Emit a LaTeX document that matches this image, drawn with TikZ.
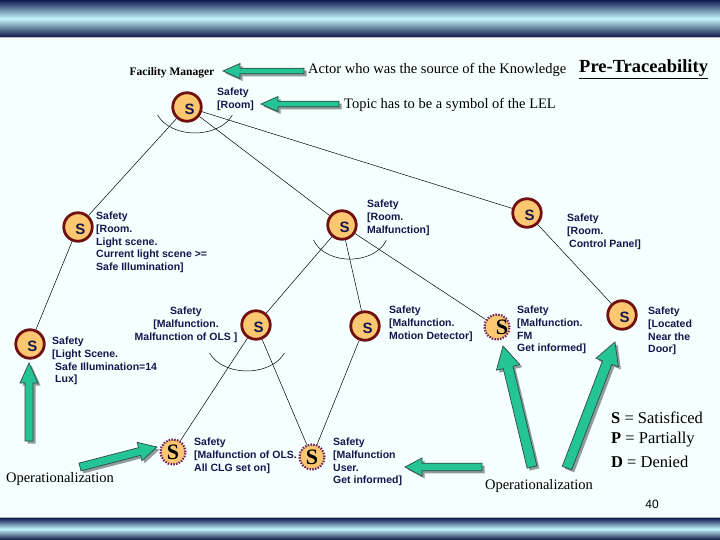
\documentclass[tikz,border=0pt]{standalone}
\usepackage{fontspec}
\setmainfont{Liberation Serif}
\setsansfont{Liberation Sans}
\usetikzlibrary{calc}
\definecolor{bg}{HTML}{F4FFFE}
\definecolor{navytext}{HTML}{14164E}
\definecolor{goalred}{HTML}{701010}
\definecolor{goalfill}{HTML}{FBC770}
\definecolor{leafpurple}{HTML}{6E2060}
\definecolor{agreen}{HTML}{25C496}
\definecolor{aline}{HTML}{2F4A42}
\definecolor{ashadow}{HTML}{8F9C9C}
\definecolor{bandark}{HTML}{0E1C52}
\definecolor{banlight}{HTML}{C4F4FB}
\newcommand\garrow[5]{%
  \path (#1); \pgfgetlastxy{\gax}{\gay}%
  \path (#2); \pgfgetlastxy{\gbx}{\gby}%
  \pgfmathsetmacro\gang{atan2(\gby-\gay,\gbx-\gax)}%
  \pgfmathsetmacro\glen{veclen(\gbx-\gax,\gby-\gay)}%
  \pgfmathsetmacro\gneck{\glen-#5}%
  \fill[ashadow, shift={(#1)}, xshift=2.5pt, yshift=-2.5pt, rotate=\gang]
    (0pt,#3pt) -- (\gneck pt,#3pt) -- (\gneck pt,#4pt) -- (\glen pt,0pt)
    -- (\gneck pt,-#4pt) -- (\gneck pt,-#3pt) -- (0pt,-#3pt) -- cycle;
  \filldraw[fill=agreen, draw=aline, line width=0.7pt, shift={(#1)}, rotate=\gang]
    (0pt,#3pt) -- (\gneck pt,#3pt) -- (\gneck pt,#4pt) -- (\glen pt,0pt)
    -- (\gneck pt,-#4pt) -- (\gneck pt,-#3pt) -- (0pt,-#3pt) -- cycle;
}
\begin{document}
\begin{tikzpicture}[x=1pt,y=-1pt,
  goal/.style={circle, draw=goalred, line width=2.8pt, fill=goalfill,
    minimum size=28.5pt, inner sep=0pt, label={[gS]center:S}},
  gS/.style={font=\sffamily\bfseries\fontsize{15}{15}\selectfont, text=navytext,
    xshift=2.5pt, yshift=-2pt, inner sep=0pt},
  leaf/.style={circle, draw=leafpurple, line width=2.2pt, dash pattern=on 1.5pt off 1.3pt,
    fill=goalfill, minimum size=25pt, inner sep=0pt,
    font=\bfseries\fontsize{22}{22}\selectfont},
  lbl/.style={font=\sffamily\bfseries\fontsize{10.5}{12.7}\selectfont, text=navytext,
    align=left, inner sep=0pt, anchor=north west},
  serif/.style={font=\fontsize{14.5}{16}\selectfont, inner sep=0pt},
  edge/.style={draw=black, line width=0.5pt}
]
\useasboundingbox (0,0) rectangle (720,540);
\fill[bg] (0,0) rectangle (720,540);
% banners
\shade[top color=bandark, bottom color=bandark!85!black, middle color=banlight] (0,0) rectangle (720,37);
\draw[gray!50, line width=1pt] (0,37.5) -- (720,37.5);
\shade[top color=bandark, bottom color=bandark!85!black, middle color=banlight] (0,518) rectangle (720,540);
\draw[gray!60, line width=1pt] (0,517.5) -- (720,517.5);

% goal nodes
\node[goal] (root) at (187,107) {};
\node[goal] (L1) at (78,227) {};
\node[goal] (M) at (342,225) {};
\node[goal] (R) at (527,213) {};
\node[goal] (L2) at (30,344) {};
\node[goal] (ML) at (256,325) {};
\node[goal] (MM) at (365,326) {};
\node[goal] (Door) at (622,315) {};
\node[leaf, label={[font=\bfseries\fontsize{22}{22}\selectfont, xshift=5pt, inner sep=0pt]center:S}] (FM) at (497,327) {};
\node[leaf] (OLS) at (173,452) {S};
\node[leaf] (User) at (312,457) {S};

% connectors
\draw[edge] (root) -- (L1);
\draw[edge] (root) -- (M);
\draw[edge] (root) -- (R);
\draw[edge] (L1) -- (L2);
\draw[edge] (M) -- (ML);
\draw[edge] (M) -- (MM);
\draw[edge] (M) -- (FM);
\draw[edge] (R) -- (Door);
\draw[edge] (ML) -- (OLS);
\draw[edge] (ML) -- (User);
\draw[edge] (MM) -- (User);
% AND arcs
\draw[edge] (232.3,115) arc[start angle=21, end angle=159, x radius=40, y radius=28];
\draw[edge] (386.3,240) arc[start angle=17, end angle=163, x radius=38, y radius=27];
\draw[edge] (284.3,353) arc[start angle=21, end angle=159, x radius=40, y radius=28];

% labels
\node[lbl] (lroot) at (217,88) {Safety\\{[}Room]};
\node[lbl] (lL1) at (96,212) {Safety\\{[}Room.\\Light scene.\\Current light scene >=\\Safe Illumination]};
\node[lbl] (lM) at (367,200) {Safety\\{[}Room.\\Malfunction]};
\node[lbl] (lR) at (567,214) {Safety\\{[}Room.\\\hspace*{2pt}Control Panel]};
\node[lbl] (lL2) at (52,337) {Safety\\{[}Light Scene.\\\hspace*{3pt}Safe Illumination=14\\\hspace*{3pt}Lux]};
\node[lbl, align=center, anchor=north] (lML) at (186,307) {Safety\\{[}Malfunction.\\Malfunction of OLS ]};
\node[lbl] (lMM) at (389,306) {Safety\\{[}Malfunction.\\Motion Detector]};
\node[lbl] (lFM) at (517,306) {Safety\\{[}Malfunction.\\FM\\Get informed]};
\node[lbl] (lDoor) at (648,307) {Safety\\{[}Located\\Near the\\Door]};
\node[lbl] (lOLS) at (194,438) {Safety\\{[}Malfunction of OLS.\\All CLG set on]};
\node[lbl] (lUser) at (333,438) {Safety\\{[}Malfunction\\User.\\Get informed]};

% serif texts
\node[font=\bfseries\fontsize{11.5}{12}\selectfont, inner sep=0pt] (fmgr) at (172,73) {Facility Manager};
\node[serif, anchor=west] (actor) at (308,70) {Actor who was the source of the Knowledge};
\node[font=\bfseries\fontsize{18.5}{19}\selectfont, inner sep=0pt, anchor=west] (pre) at (579,69) {\underline{Pre-Traceability}};
\node[serif, anchor=west] (topic) at (344,105) {Topic has to be a symbol of the LEL};
\node[serif] (op1) at (60,479) {Operationalization};
\node[serif] (op2) at (539,486) {Operationalization};
\node[font=\fontsize{16.5}{17}\selectfont, inner sep=0pt, anchor=west] (legS) at (611,418) {\textbf{S} = Satisficed};
\node[font=\fontsize{16.5}{17}\selectfont, inner sep=0pt, anchor=west] (legP) at (611,440) {\textbf{P} = Partially};
\node[font=\fontsize{16.5}{17}\selectfont, inner sep=0pt, anchor=west] (legD) at (611,462) {\textbf{D} = Denied};
\node[font=\sffamily\fontsize{12}{12}\selectfont, inner sep=0pt] (pg) at (652,504) {40};

% green pointer arrows
\coordinate (a1t) at (304,71); \coordinate (a1h) at (223,71);
\coordinate (a2t) at (339,104); \coordinate (a2h) at (261,104);
\coordinate (a3t) at (29,441); \coordinate (a3h) at (29,363);
\coordinate (a4t) at (80,467); \coordinate (a4h) at (157,447);
\coordinate (a5t) at (482,467); \coordinate (a5h) at (405,467);
\coordinate (a6t) at (532,467); \coordinate (a6h) at (503,346);
\coordinate (a7t) at (567,468); \coordinate (a7h) at (615,342);
\garrow{a1t}{a1h}{2.8}{7.5}{17}
\garrow{a2t}{a2h}{2.8}{7.5}{17}
\garrow{a3t}{a3h}{4}{9}{20}
\garrow{a4t}{a4h}{4}{9.5}{18}
\garrow{a5t}{a5h}{3.8}{9}{17}
\garrow{a6t}{a6h}{5}{12}{22}
\garrow{a7t}{a7h}{5}{12}{22}
\end{tikzpicture}
\end{document}
